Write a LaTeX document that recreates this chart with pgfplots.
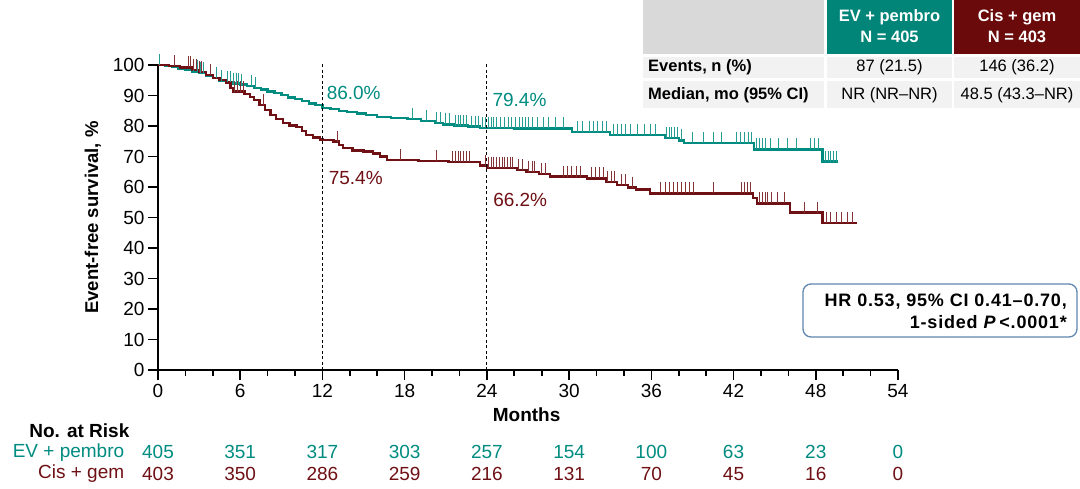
\documentclass[border=0pt]{standalone}
\usepackage{pgfplots}
\usepackage{pgfplotstable}
\pgfplotsset{compat=1.18}
\usepackage{fontspec}
\setmainfont{Liberation Sans}
\newfontfamily\hrfont[LetterSpace=4.5]{Liberation Sans}
\definecolor{evline}{RGB}{0,140,128}
\definecolor{cisline}{RGB}{110,16,20}
\definecolor{evhead}{RGB}{0,133,120}
\definecolor{cishead}{RGB}{106,10,10}
\definecolor{boxblue}{RGB}{95,135,175}
\definecolor{hgray}{RGB}{217,217,217}
\definecolor{lgray}{RGB}{242,242,242}
\pgfdeclareplotmark{cens}{\pgfpathmoveto{\pgfpointorigin}\pgfpathlineto{\pgfpoint{0pt}{11pt}}\pgfusepathqstroke}

\pgfplotstableread{
t S
0 100
0.5 99.6
1.0 99.3
1.5 98.9
2.0 98.5
2.5 97.9
3.0 97.4
3.5 96.6
4.0 95.7
4.5 94.8
5.0 94.3
5.5 93.9
6.0 93.6
6.5 93.2
7.0 92.5
7.5 92.0
8.0 91.3
8.5 90.8
9.0 90.1
9.5 89.4
10.0 88.8
10.5 88.1
11.0 87.4
11.5 86.8
12.0 86.0
12.6 85.5
13.2 85.0
13.8 84.5
14.5 84.1
15.2 83.6
16.0 83.0
17.0 82.6
18.2 82.2
19.2 81.6
20.2 81.0
20.8 80.5
21.6 80.1
22.6 79.8
23.5 79.4
26.0 79.2
30.2 78.0
33.0 77.0
37.0 76.0
38.0 75.3
38.4 74.4
43.5 72.3
48.5 68.3
49.6 68.3
}\evtab

\pgfplotstableread{
t S
0 100
0.8 99.6
1.6 99.2
2.5 98.4
3.0 97.8
3.5 96.8
4.0 95.8
4.5 95.0
5.0 94.2
5.3 92.4
5.5 91.3
6.3 90.5
6.7 89.6
7.0 88.5
7.4 86.9
7.8 85.2
8.2 83.6
8.6 82.3
9.1 80.9
9.6 80.2
10.1 79.6
10.5 78.4
10.8 77.0
11.3 76.2
11.8 75.6
12.0 75.4
12.8 74.9
13.2 73.8
13.5 72.7
14.2 72.0
15.0 71.6
15.7 71.0
16.2 70.0
16.7 68.9
19.0 68.5
21.2 68.1
23.5 67.0
24.0 66.2
26.2 65.6
26.9 65.0
27.8 64.2
28.6 63.4
31.3 62.8
32.7 61.7
33.5 60.7
34.3 59.8
34.9 59.2
35.9 57.9
43.4 56.3
43.7 54.6
46.1 51.6
48.5 48.1
51.0 48.1
}\cistab

\pgfplotstableread{
t S
0.1 100
2.6 97.9
2.9 97.9
3.1 97.4
3.3 97.4
4.3 95.7
4.6 94.8
5.1 94.3
5.3 94.3
5.5 93.9
5.7 93.9
5.9 93.9
6.1 93.6
6.8 93.2
7.1 92.5
18.6 82.2
19.6 81.6
20.3 81.0
20.6 81.0
21.0 80.5
21.3 80.5
21.7 80.1
21.9 80.1
22.1 80.1
22.3 80.1
22.5 80.1
22.9 79.8
23.2 79.8
23.4 79.8
23.7 79.4
23.9 79.4
24.1 79.4
24.3 79.4
24.5 79.4
24.7 79.4
25.0 79.4
25.3 79.4
25.6 79.4
25.8 79.4
26.1 79.2
26.4 79.2
26.6 79.2
26.8 79.2
27.0 79.2
27.3 79.2
27.7 79.2
28.1 79.2
28.5 79.2
29.0 79.2
29.6 79.2
30.6 78.0
31.0 78.0
31.5 78.0
31.8 78.0
32.1 78.0
32.4 78.0
32.7 78.0
33.2 77.0
33.5 77.0
33.8 77.0
34.1 77.0
34.5 77.0
35.0 77.0
35.5 77.0
35.9 77.0
36.3 77.0
37.1 76.0
37.3 76.0
37.5 76.0
37.7 76.0
37.9 76.0
38.2 75.3
39.0 74.4
39.8 74.4
40.5 74.4
41.1 74.4
42.2 74.4
42.5 74.4
42.8 74.4
43.1 74.4
43.3 74.4
43.7 72.3
43.9 72.3
44.1 72.3
44.3 72.3
44.7 72.3
45.3 72.3
45.9 72.3
46.6 72.3
47.6 72.3
47.9 72.3
48.2 72.3
48.7 68.3
48.9 68.3
49.1 68.3
49.3 68.3
49.5 68.3
}\evcens

\pgfplotstableread{
t S
1.2 99.6
2.2 99.2
2.4 99.2
2.6 98.4
2.8 98.4
3.0 97.8
3.2 97.8
3.8 96.8
5.6 91.3
5.8 91.3
6.0 91.3
6.2 91.3
7.7 86.9
13.1 74.9
17.7 68.9
20.3 68.5
21.5 68.1
21.7 68.1
21.9 68.1
22.1 68.1
22.3 68.1
22.5 68.1
22.7 68.1
23.9 67.0
24.1 66.2
24.3 66.2
24.5 66.2
24.7 66.2
24.9 66.2
25.1 66.2
25.3 66.2
25.5 66.2
25.7 66.2
25.9 66.2
26.3 65.6
26.6 65.6
27.0 65.0
27.3 65.0
27.5 65.0
28.0 64.2
28.3 64.2
29.6 63.4
29.9 63.4
30.2 63.4
30.5 63.4
30.8 63.4
31.6 62.8
31.9 62.8
32.2 62.8
32.5 62.8
32.8 61.7
33.1 61.7
33.3 61.7
33.8 60.7
34.1 60.7
34.6 59.8
36.7 57.9
37.0 57.9
37.3 57.9
37.6 57.9
37.9 57.9
38.2 57.9
38.5 57.9
38.8 57.9
39.1 57.9
40.5 57.9
42.6 57.9
42.8 57.9
43.0 57.9
43.2 57.9
43.9 54.6
44.1 54.6
44.3 54.6
44.5 54.6
44.8 54.6
45.2 54.6
45.7 54.6
47.2 51.6
48.1 51.6
48.8 48.1
49.1 48.1
49.5 48.1
49.9 48.1
50.3 48.1
50.7 48.1
}\ciscens

\newcommand\fn{\fontsize{19}{22}\selectfont}
\begin{document}
\begin{tikzpicture}[x=1pt,y=1pt]
\useasboundingbox (0,0) rectangle (1080,488);
\begin{axis}[
  at={(158pt,118pt)}, anchor=south west,
  scale only axis, width=740pt, height=305pt,
  xmin=0, xmax=54, ymin=0, ymax=100,
  axis lines=left,
  axis line style={-, line width=1.6pt, black},
  xtick={0,6,...,54}, ytick={0,10,...,100},
  minor x tick num=2,
  tick align=outside,
  major tick length=10pt, minor tick length=6pt,
  every tick/.style={black, line width=1.6pt},
  /pgf/number format/assume math mode=true,
  ticklabel style={font=\fn},
  xticklabel style={yshift=-1pt},
  ylabel={Event-free survival, \%},
  ylabel style={font=\fontsize{18.5}{22}\selectfont\bfseries, at={(axis description cs:-0.088,0.5)}, anchor=center},
  clip=false,
]
\addplot[const plot, evline, line width=2.4pt] table[x=t,y=S] {\evtab};
\addplot[const plot, cisline, line width=2.4pt] table[x=t,y=S] {\cistab};
\addplot[only marks, mark=cens, evline!85, mark options={line width=0.9pt}] table[x=t,y=S] {\evcens};
\addplot[only marks, mark=cens, cisline!85, mark options={line width=0.9pt}] table[x=t,y=S] {\ciscens};
\draw[black, line width=0.9pt, dash pattern=on 3pt off 2.5pt] (axis cs:12,0) -- (axis cs:12,100.8);
\draw[black, line width=0.9pt, dash pattern=on 3pt off 2.5pt] (axis cs:24,0) -- (axis cs:24,100.8);
\node[anchor=west, text=evline, font=\fn, inner sep=0pt] at (axis cs:12.3,90.7) {86.0\%};
\node[anchor=west, text=cisline, font=\fn, inner sep=0pt] at (axis cs:12.45,63.0) {75.4\%};
\node[anchor=west, text=evline, font=\fn, inner sep=0pt] at (axis cs:24.4,88.5) {79.4\%};
\node[anchor=west, text=cisline, font=\fn, inner sep=0pt] at (axis cs:24.45,55.7) {66.2\%};
\node[font=\fn\bfseries, inner sep=0pt] at (axis cs:26.9,-14.8) {Months};
\node[anchor=west, font=\fn\bfseries, inner sep=0pt] at (axis cs:-9.4,-20.0) {No. at Risk};
\node[anchor=east, text=evline, font=\fn, inner sep=0pt] at (axis cs:-2.45,-27.0) {EV + pembro};
\node[anchor=east, text=cisline, font=\fn, inner sep=0pt] at (axis cs:-2.45,-34.0) {Cis + gem};
\node[text=evline, font=\fn, inner sep=0pt] at (axis cs:0,-27.0) {405};
\node[text=evline, font=\fn, inner sep=0pt] at (axis cs:6,-27.0) {351};
\node[text=evline, font=\fn, inner sep=0pt] at (axis cs:12,-27.0) {317};
\node[text=evline, font=\fn, inner sep=0pt] at (axis cs:18,-27.0) {303};
\node[text=evline, font=\fn, inner sep=0pt] at (axis cs:24,-27.0) {257};
\node[text=evline, font=\fn, inner sep=0pt] at (axis cs:30,-27.0) {154};
\node[text=evline, font=\fn, inner sep=0pt] at (axis cs:36,-27.0) {100};
\node[text=evline, font=\fn, inner sep=0pt] at (axis cs:42,-27.0) {63};
\node[text=evline, font=\fn, inner sep=0pt] at (axis cs:48,-27.0) {23};
\node[text=evline, font=\fn, inner sep=0pt] at (axis cs:54,-27.0) {0};
\node[text=cisline, font=\fn, inner sep=0pt] at (axis cs:0,-34.0) {403};
\node[text=cisline, font=\fn, inner sep=0pt] at (axis cs:6,-34.0) {350};
\node[text=cisline, font=\fn, inner sep=0pt] at (axis cs:12,-34.0) {286};
\node[text=cisline, font=\fn, inner sep=0pt] at (axis cs:18,-34.0) {259};
\node[text=cisline, font=\fn, inner sep=0pt] at (axis cs:24,-34.0) {216};
\node[text=cisline, font=\fn, inner sep=0pt] at (axis cs:30,-34.0) {131};
\node[text=cisline, font=\fn, inner sep=0pt] at (axis cs:36,-34.0) {70};
\node[text=cisline, font=\fn, inner sep=0pt] at (axis cs:42,-34.0) {45};
\node[text=cisline, font=\fn, inner sep=0pt] at (axis cs:48,-34.0) {16};
\node[text=cisline, font=\fn, inner sep=0pt] at (axis cs:54,-34.0) {0};
\end{axis}
\begin{scope}[shift={(0,488)}, y=-1pt]
  \fill[hgray] (643,0) rectangle (824,54);
  \fill[evhead] (827,0) rectangle (952,54);
  \fill[cishead] (954,0) rectangle (1080,54);
  \fill[lgray] (643,57) rectangle (824,78);
  \fill[lgray] (827,57) rectangle (952,78);
  \fill[lgray] (954,57) rectangle (1080,78);
  \fill[lgray] (643,81) rectangle (824,108);
  \fill[lgray] (827,81) rectangle (952,108);
  \fill[lgray] (954,81) rectangle (1080,108);
  \node[white, font=\fontsize{16.5}{19}\selectfont\bfseries, inner sep=0pt] at (889.5,17) {EV + pembro};
  \node[white, font=\fontsize{16.5}{19}\selectfont\bfseries, inner sep=0pt] at (889.5,37) {N = 405};
  \node[white, font=\fontsize{16.5}{19}\selectfont\bfseries, inner sep=0pt] at (1017,17) {Cis + gem};
  \node[white, font=\fontsize{16.5}{19}\selectfont\bfseries, inner sep=0pt] at (1017,37) {N = 403};
  \node[anchor=west, font=\fontsize{16.5}{19}\selectfont\bfseries, inner sep=0pt] at (648,67.5) {Events, n (\%)};
  \node[anchor=west, font=\fontsize{16.5}{19}\selectfont\bfseries, inner sep=0pt] at (648,95) {Median, mo (95\% CI)};
  \node[font=\fontsize{16.5}{19}\selectfont, inner sep=0pt] at (889.5,67.5) {87 (21.5)};
  \node[font=\fontsize{16.5}{19}\selectfont, inner sep=0pt] at (1017,67.5) {146 (36.2)};
  \node[font=\fontsize{16.5}{19}\selectfont, inner sep=0pt] at (889.5,95) {NR (NR–NR)};
  \node[font=\fontsize{16.5}{19}\selectfont, inner sep=0pt] at (1017,95) {48.5 (43.3–NR)};
  \draw[boxblue, line width=1.3pt, rounded corners=8pt] (803,284) rectangle (1077,337);
  \node[anchor=east, font=\hrfont\fontsize{18}{21}\selectfont\bfseries, inner sep=0pt] at (1067,302) {HR 0.53, 95\% CI 0.41–0.70,};
  \node[anchor=east, font=\hrfont\fontsize{18}{21}\selectfont\bfseries, inner sep=0pt] at (1067,322) {1-sided \textit{P}\,<.0001*};
\end{scope}
\end{tikzpicture}
\end{document}
